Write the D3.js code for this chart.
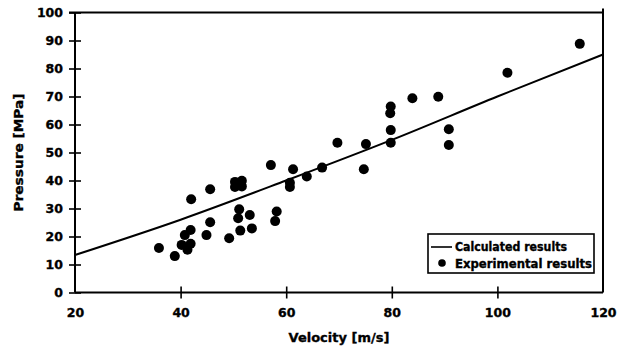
<!DOCTYPE html>
<html>
<head>
<meta charset="utf-8">
<script src="https://cdn.jsdelivr.net/npm/d3@7/dist/d3.min.js"></script>
<style>
  html, body { margin: 0; padding: 0; background: #fff; }
  svg { display: block; }
  text { font-family: "DejaVu Sans", "Liberation Sans", sans-serif; font-weight: bold; fill: #000;
         stroke: #000; stroke-width: 0.35px; }
</style>
</head>
<body>
<svg id="chart" width="618" height="353"></svg>
<script>
// Experimental measurements: velocity [m/s] and pressure [MPa]
const expVelocity = [35.9, 38.9, 40.2, 41.3, 41.9, 40.8, 41.9, 42.0, 44.9, 45.6, 45.6,
  49.2, 50.3, 51.6, 50.3, 51.6, 51.1, 50.9, 51.3, 53.1, 53.5,
  57.1, 58.2, 57.9, 60.7, 60.7, 61.3, 63.9, 66.8, 69.7, 74.7, 75.1,
  79.8, 79.7, 79.8, 79.8, 83.9, 88.8, 90.8, 90.8, 101.9, 115.6];
const expPressure = [15.9, 13.0, 17.0, 15.3, 17.4, 20.5, 22.3, 33.3, 20.5, 25.1, 36.9,
  19.4, 39.5, 39.9, 37.7, 37.9, 29.7, 26.5, 22.1, 27.7, 22.9,
  45.5, 28.9, 25.5, 39.2, 37.7, 44.0, 41.4, 44.6, 53.5, 44.0, 53.0,
  66.4, 64.0, 58.0, 53.5, 69.4, 69.9, 58.3, 52.7, 78.5, 88.8];

// Calculated curve
const calcVelocity = [20, 40, 60, 80, 100, 120];
const calcPressure = [13.4, 26.0, 40.0, 54.5, 70.0, 85.0];

// Tick labels
const xTicks = [20, 40, 60, 80, 100, 120];
const yTicks = [0, 10, 20, 30, 40, 50, 60, 70, 80, 90, 100];

const svg = d3.select("#chart");
const plotL = 75, plotR = 603, plotT = 12.5, plotB = 292.5;

const x = d3.scaleLinear().domain([20, 120]).range([plotL, plotR]);
const y = d3.scaleLinear().domain([0, 100]).range([plotB, plotT]);

// Frame: top and right edges
svg.append("line").attr("x1", plotL - 6).attr("x2", plotR).attr("y1", plotT).attr("y2", plotT)
  .attr("stroke", "#000").attr("stroke-width", 2);
svg.append("line").attr("x1", plotR).attr("x2", plotR).attr("y1", plotT - 4).attr("y2", plotB)
  .attr("stroke", "#000").attr("stroke-width", 2);

// Left axis with crossing ticks
const yAxis = svg.append("g").attr("transform", `translate(${plotL},0)`)
  .call(d3.axisLeft(y).tickValues(yTicks).tickSize(6).tickPadding(6).tickFormat(d3.format("d")));
yAxis.select(".domain").attr("stroke-width", 2).attr("d", `M0,${plotT}V${plotB}`);
yAxis.selectAll(".tick line").attr("x1", 6).attr("x2", -6).attr("stroke-width", 1.6);
yAxis.selectAll(".tick text").attr("font-size", 12.5).attr("font-family", "DejaVu Sans")
  .attr("font-weight", "bold").attr("x", -12);

// Bottom axis with crossing ticks
const xAxis = svg.append("g").attr("transform", `translate(0,${plotB})`)
  .call(d3.axisBottom(x).tickValues(xTicks).tickSize(6).tickPadding(10).tickFormat(d3.format("d")));
xAxis.select(".domain").attr("stroke-width", 2).attr("d", `M${plotL},0H${plotR}`);
xAxis.selectAll(".tick line").attr("y1", -6).attr("y2", 6).attr("stroke-width", 1.6);
xAxis.selectAll(".tick text").attr("font-size", 12.5).attr("font-family", "DejaVu Sans")
  .attr("font-weight", "bold");
xAxis.selectAll(".tick").filter(d => d === 20 || d === 120).select("line").remove();

// Axis titles
svg.append("text").attr("x", (plotL + plotR) / 2).attr("y", 342)
  .attr("text-anchor", "middle").attr("font-size", 13).text("Velocity [m/s]");
svg.append("text").attr("transform", `translate(23,${(plotT + plotB) / 2}) rotate(-90)`)
  .attr("text-anchor", "middle").attr("font-size", 12.5)
  .attr("textLength", 118).attr("lengthAdjust", "spacingAndGlyphs").text("Pressure [MPa]");

// Calculated curve
const calc = calcVelocity.map((v, i) => [v, calcPressure[i]]);
svg.append("path").datum(calc)
  .attr("d", d3.line().x(d => x(d[0])).y(d => y(d[1])).curve(d3.curveMonotoneX))
  .attr("fill", "none").attr("stroke", "#000").attr("stroke-width", 2);

// Experimental points
svg.append("g").selectAll("circle").data(expVelocity.map((v, i) => [v, expPressure[i]]))
  .join("circle")
  .attr("cx", d => x(d[0])).attr("cy", d => y(d[1])).attr("r", 5).attr("fill", "#000");

// Legend
const lg = svg.append("g");
lg.append("rect").attr("x", 428).attr("y", 234).attr("width", 166).attr("height", 39)
  .attr("fill", "#fff").attr("stroke", "#000").attr("stroke-width", 1.6);
lg.append("line").attr("x1", 431).attr("x2", 452).attr("y1", 247).attr("y2", 247)
  .attr("stroke", "#000").attr("stroke-width", 1.6);
lg.append("text").attr("x", 455).attr("y", 251).attr("font-size", 11.5)
  .attr("textLength", 112).attr("lengthAdjust", "spacingAndGlyphs").text("Calculated results");
lg.append("circle").attr("cx", 442).attr("cy", 263).attr("r", 3.8).attr("fill", "#000");
lg.append("text").attr("x", 455).attr("y", 268).attr("font-size", 11.5)
  .attr("textLength", 137).attr("lengthAdjust", "spacingAndGlyphs").text("Experimental results");
</script>
</body>
</html>
